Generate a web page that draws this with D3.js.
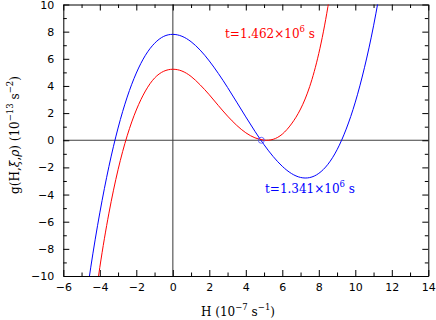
<!DOCTYPE html>
<html>
<head>
<meta charset="utf-8">
<script src="https://cdn.jsdelivr.net/npm/d3@7"></script>
<style>
  body { margin: 0; background: #fff; }
  svg { display: block; }
  .tick text { font-family: "DejaVu Sans", sans-serif; font-size: 11px; }
  .domain { stroke: #000; }
</style>
</head>
<body>
<svg id="chart" width="436" height="320"></svg>
<script>
// H in 10^-7 s^-1, g in 10^-13 s^-2
const blueH = [-5, -4.5, -4, -3.5, -3, -2.5, -2, -1.5, -1, -0.5, 0, 0.5, 1, 1.5, 2, 2.5, 3, 3.5, 4, 4.5, 5, 5.5, 6, 6.5, 7, 7.5, 8, 8.5, 9, 9.5, 10, 10.5, 11, 11.5];
const blueG = [-14.1, -9.4, -5.35, -1.93, 0.9, 3.18, 4.95, 6.26, 7.14, 7.65, 7.8, 7.66, 7.26, 6.64, 5.84, 4.91, 3.89, 2.81, 1.72, 0.66, -0.33, -1.2, -1.92, -2.45, -2.74, -2.75, -2.44, -1.77, -0.7, 0.82, 2.81, 5.34, 8.43, 12.13];

const redH = [-4.5, -4, -3.5, -3, -2.5, -2, -1.5, -1, -0.5, 0, 0.5, 1, 1.5, 2, 2.5, 3, 3.5, 4, 4.5, 5, 5.5, 6, 6.5, 7, 7.5, 8, 8.5, 9];
const redG = [-14.2, -9.37, -5.37, -2.17, 0.33, 2.23, 3.63, 4.58, 5.08, 5.23, 5.1, 4.7, 4.08, 3.35, 2.55, 1.78, 1.1, 0.55, 0.18, 0.01, 0.07, 0.45, 1.2, 2.3, 3.95, 6.4, 9.85, 14.3];

const xMajor = [-6, -4, -2, 0, 2, 4, 6, 8, 10, 12, 14];
const xMinor = [-5, -3, -1, 1, 3, 5, 7, 9, 11, 13];
const yMajor = [-10, -8, -6, -4, -2, 0, 2, 4, 6, 8, 10];
const yMinor = [-9, -7, -5, -3, -1, 1, 3, 5, 7, 9];

const crossing = {H: 4.85, g: 0};

const svg = d3.select("#chart");
const pl = 63.3, pr = 428.3, pt = 4.5, pb = 276;

const x = d3.scaleLinear().domain([-6, 14]).range([pl, pr]);
const y = d3.scaleLinear().domain([-10, 10]).range([pb, pt]);

const fmt = d => d < 0 ? "\u2212" + Math.abs(d) : String(d);

svg.append("clipPath").attr("id", "clip")
  .append("rect")
  .attr("x", pl).attr("y", pt)
  .attr("width", pr - pl).attr("height", pb - pt);

// zero lines
svg.append("line")
  .attr("x1", x(0)).attr("x2", x(0))
  .attr("y1", pt).attr("y2", pb)
  .attr("stroke", "#707070").attr("stroke-width", 1.4);
svg.append("line")
  .attr("x1", pl).attr("x2", pr)
  .attr("y1", y(0)).attr("y2", y(0))
  .attr("stroke", "#404040").attr("stroke-width", 1.2);

// axes, ticks pointing inward
const axisSet = [
  {make: d3.axisBottom, scale: x, pos: `translate(0,${pb})`, major: xMajor, minor: xMinor, labels: true, pad: 7},
  {make: d3.axisTop, scale: x, pos: `translate(0,${pt})`, major: xMajor, minor: xMinor, labels: false, pad: 7},
  {make: d3.axisLeft, scale: y, pos: `translate(${pl},0)`, major: yMajor, minor: yMinor, labels: true, pad: 9},
  {make: d3.axisRight, scale: y, pos: `translate(${pr},0)`, major: yMajor, minor: yMinor, labels: false, pad: 9}
];

axisSet.forEach(a => {
  const g = svg.append("g").attr("transform", a.pos)
    .call(a.make(a.scale).tickValues(a.major)
      .tickSizeInner(-6).tickSizeOuter(0)
      .tickPadding(a.pad)
      .tickFormat(a.labels ? fmt : ""));
  g.selectAll(".tick text").attr("fill", "#000");
  const gm = svg.append("g").attr("transform", a.pos)
    .call(a.make(a.scale).tickValues(a.minor)
      .tickSizeInner(-3.5).tickSizeOuter(0)
      .tickFormat(""));
  gm.select(".domain").remove();
});

// curves
const line = d3.line()
  .x(d => x(d[0]))
  .y(d => y(d[1]))
  .curve(d3.curveNatural);

const plot = svg.append("g").attr("clip-path", "url(#clip)");

plot.append("path")
  .datum(d3.zip(blueH, blueG))
  .attr("fill", "none")
  .attr("stroke", "#0000ff")
  .attr("stroke-width", 1)
  .attr("d", line);

plot.append("path")
  .datum(d3.zip(redH, redG))
  .attr("fill", "none")
  .attr("stroke", "#ff0000")
  .attr("stroke-width", 1)
  .attr("d", line);

svg.append("circle")
  .attr("cx", x(crossing.H)).attr("cy", y(crossing.g))
  .attr("r", 3)
  .attr("fill", "none")
  .attr("stroke", "#4444ff")
  .attr("stroke-width", 0.8);

// curve labels
const labelFont = "'DejaVu Serif', serif";
function tLabel(xp, yp, color, val) {
  const t = svg.append("text")
    .attr("x", xp).attr("y", yp)
    .attr("fill", color)
    .style("font-family", labelFont)
    .style("font-size", "12px");
  t.append("tspan").text(`t=${val}\u00d710`);
  t.append("tspan").attr("dy", -6).style("font-size", "8.5px").text("6");
  t.append("tspan").attr("dy", 6).text(" s");
}
tLabel(225, 38, "#ff0000", "1.462");
tLabel(265, 193, "#0000ff", "1.341");

// axis titles
const xt = svg.append("text")
  .attr("x", 238).attr("y", 316)
  .attr("text-anchor", "middle")
  .style("font-family", labelFont)
  .style("font-size", "12px");
xt.append("tspan").text("H  (10");
xt.append("tspan").attr("dy", -6).style("font-size", "8.5px").text("\u22127");
xt.append("tspan").attr("dy", 6).text(" s");
xt.append("tspan").attr("dy", -6).style("font-size", "8.5px").text("\u22121");
xt.append("tspan").attr("dy", 6).text(")");

const yt = svg.append("text")
  .attr("transform", `translate(19,135) rotate(-90)`)
  .attr("text-anchor", "middle")
  .style("font-family", labelFont)
  .style("font-size", "12px");
yt.append("tspan").text("g(H,");
yt.append("tspan").style("font-style", "italic").text("\u03be");
yt.append("tspan").text(",");
yt.append("tspan").style("font-style", "italic").text("\u03c1");
yt.append("tspan").text(")  (10");
yt.append("tspan").attr("dy", -6).style("font-size", "8.5px").text("\u221213");
yt.append("tspan").attr("dy", 6).text(" s");
yt.append("tspan").attr("dy", -6).style("font-size", "8.5px").text("\u22122");
yt.append("tspan").attr("dy", 6).text(")");
</script>
</body>
</html>
